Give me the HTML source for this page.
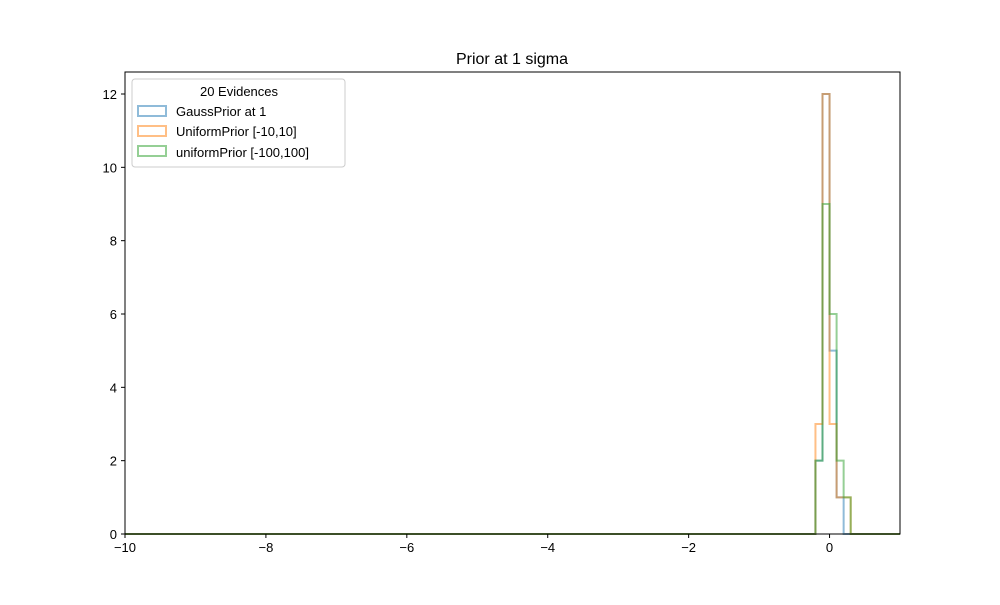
<!DOCTYPE html>
<html><head><meta charset="utf-8"><style>
body{margin:0;background:#fff;font-family:"Liberation Sans",sans-serif}
</style></head><body>
<svg width="1000" height="600" xmlns="http://www.w3.org/2000/svg" font-family="Liberation Sans, sans-serif">
<rect width="1000" height="600" fill="#fff"/>
<text x="512" y="64" text-anchor="middle" font-size="16">Prior at 1 sigma</text>
<g id="plot"></g>
<rect x="125" y="72" width="775" height="462" fill="none" stroke="#000" stroke-width="1"/>
<g id="ticks" font-size="13"></g>
<g>
<rect x="132" y="79" width="213" height="88" fill="#fff" fill-opacity="0.8" stroke="#ccc" rx="3"/>
<text x="239" y="96" text-anchor="middle" font-size="13">20 Evidences</text>
<rect x="138" y="106" width="28" height="10" fill="none" stroke="#1f77b4" stroke-opacity="0.5" stroke-width="2"/>
<text x="176" y="116" font-size="13">GaussPrior at 1</text>
<rect x="138" y="126" width="28" height="10" fill="none" stroke="#ff7f0e" stroke-opacity="0.5" stroke-width="2"/>
<text x="176" y="136" font-size="13">UniformPrior [-10,10]</text>
<rect x="138" y="146" width="28" height="10" fill="none" stroke="#2ca02c" stroke-opacity="0.5" stroke-width="2"/>
<text x="176" y="157" font-size="13">uniformPrior [-100,100]</text>
</g>
</svg>
<script>
const binEdges = [-0.2, -0.1, 0, 0.1, 0.2, 0.3];
const gaussCounts = [2, 12, 5, 1, 0];
const uniform10Counts = [3, 12, 3, 1, 1];
const uniform100Counts = [2, 9, 6, 2, 1];
const xTicks = [-10, -8, -6, -4, -2, 0];
const yTicks = [0, 2, 4, 6, 8, 10, 12];
const NS = "http://www.w3.org/2000/svg";
const X0 = 125, X1 = 900, Y0 = 534, Y1 = 72;
const xMin = -10, xMax = 1, yMin = 0, yMax = 12.6;
const sx = v => X0 + (v - xMin) / (xMax - xMin) * (X1 - X0);
const sy = v => Y0 - (v - yMin) / (yMax - yMin) * (Y0 - Y1);
const plot = document.getElementById('plot');
function step(counts, color, name) {
  let d = `M${sx(xMin)},${sy(0)} L${sx(binEdges[0])},${sy(0)}`;
  for (let i = 0; i < counts.length; i++) {
    d += ` L${sx(binEdges[i])},${sy(counts[i])} L${sx(binEdges[i + 1])},${sy(counts[i])}`;
  }
  d += ` L${sx(binEdges[binEdges.length - 1])},${sy(0)} L${sx(xMax)},${sy(0)}`;
  const p = document.createElementNS(NS, 'path');
  p.setAttribute('d', d);
  p.setAttribute('fill', 'none');
  p.setAttribute('stroke', color);
  p.setAttribute('stroke-opacity', '0.5');
  p.setAttribute('stroke-width', '2');
  
  
  plot.appendChild(p);
}
step(gaussCounts, '#1f77b4', 'gauss-histogram');
step(uniform10Counts, '#ff7f0e', 'uniform10-histogram');
step(uniform100Counts, '#2ca02c', 'uniform100-histogram');
const tg = document.getElementById('ticks');
xTicks.forEach(t => {
  const x = sx(t);
  const l = document.createElementNS(NS, 'line');
  l.setAttribute('x1', x); l.setAttribute('x2', x); l.setAttribute('y1', Y0); l.setAttribute('y2', Y0 + 4);
  l.setAttribute('stroke', '#000');
  
  
  tg.appendChild(l);
  const tx = document.createElementNS(NS, 'text');
  tx.setAttribute('x', x); tx.setAttribute('y', Y0 + 18); tx.setAttribute('text-anchor', 'middle');
  tx.textContent = t < 0 ? '\u2212' + Math.abs(t) : String(t);
  
  
  tg.appendChild(tx);
});
yTicks.forEach(t => {
  const y = sy(t);
  const l = document.createElementNS(NS, 'line');
  l.setAttribute('x1', X0 - 4); l.setAttribute('x2', X0); l.setAttribute('y1', y); l.setAttribute('y2', y);
  l.setAttribute('stroke', '#000');
  
  
  tg.appendChild(l);
  const tx = document.createElementNS(NS, 'text');
  tx.setAttribute('x', X0 - 8); tx.setAttribute('y', y + 5); tx.setAttribute('text-anchor', 'end');
  tx.textContent = String(t);
  
  
  tg.appendChild(tx);
});
</script>
</body></html>
